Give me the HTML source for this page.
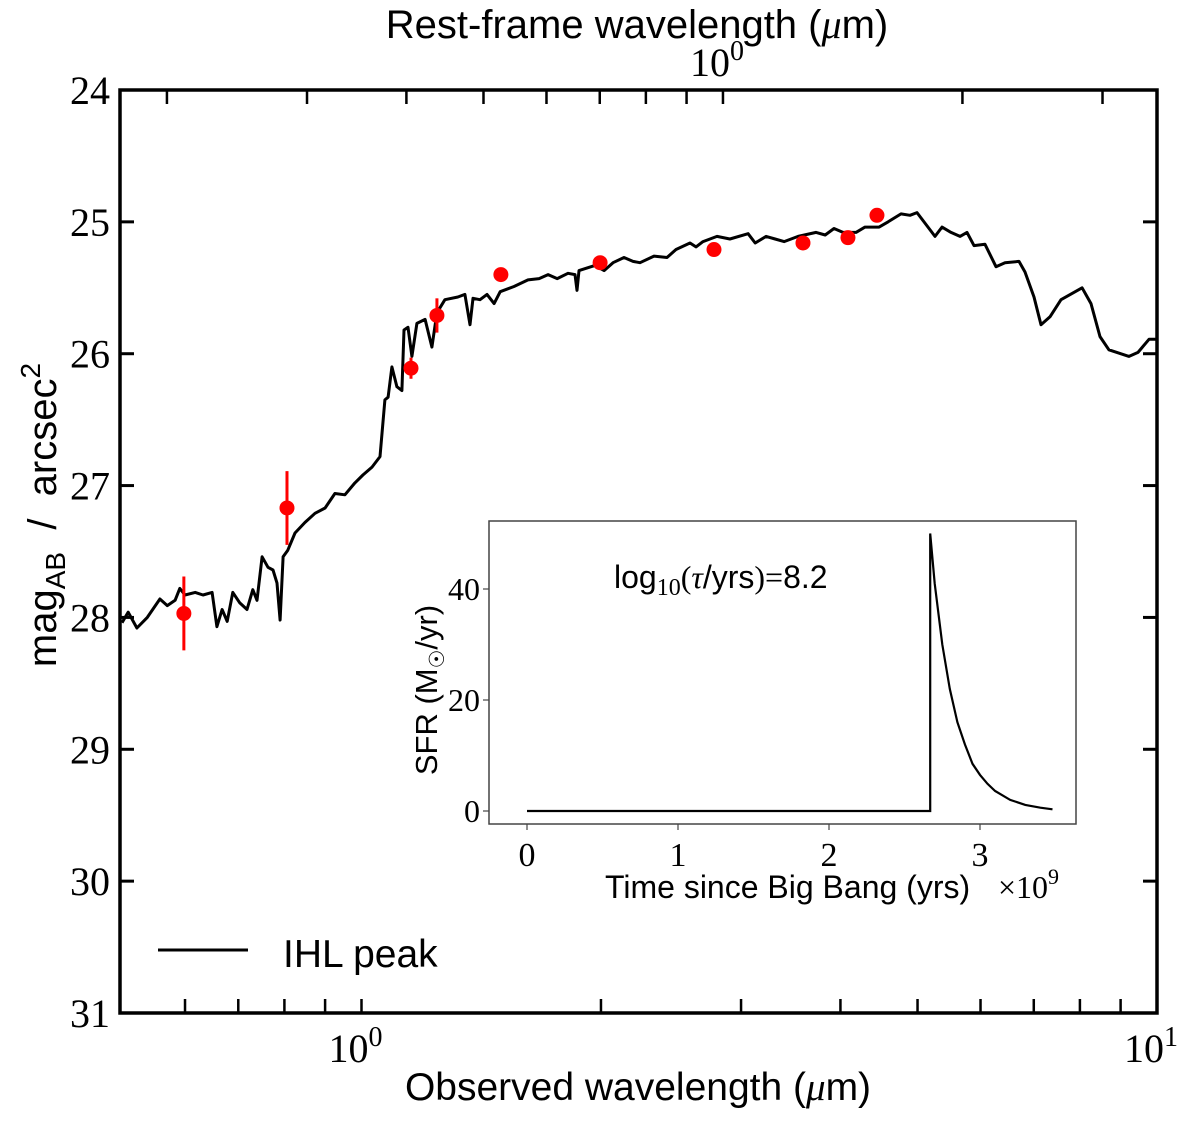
<!DOCTYPE html>
<html><head><meta charset="utf-8"><style>
body{margin:0;background:#fff;}
svg text{fill:#000;}
.serif{font-family:"Liberation Serif",serif;}
.sans{font-family:"Liberation Sans",sans-serif;}
</style></head><body>
<svg id="chart" width="1200" height="1118" xmlns="http://www.w3.org/2000/svg"></svg>
<script>
// Main SED line: observed wavelength (micron) and magnitude
const sedWave=[0.50,0.509,0.522,0.538,0.558,0.570,0.583,0.591,0.600,0.618,0.632,0.649,0.658,0.668,0.678,0.689,0.703,0.718,0.730,0.739,0.750,0.763,0.774,0.783,0.790,0.797,0.808,0.825,0.849,0.874,0.900,0.926,0.953,0.981,1.004,1.031,1.055,1.070,1.080,1.092,1.108,1.124,1.131,1.144,1.157,1.174,1.202,1.226,1.244,1.273,1.322,1.349,1.369,1.381,1.409,1.438,1.468,1.494,1.555,1.619,1.672,1.716,1.762,1.818,1.855,1.866,1.877,1.966,2.018,2.071,2.138,2.194,2.239,2.332,2.421,2.485,2.588,2.633,2.687,2.798,2.905,3.062,3.125,3.226,3.311,3.398,3.539,3.728,3.827,3.926,4.030,4.184,4.295,4.473,4.591,4.767,4.892,4.992,5.154,5.260,5.367,5.508,5.654,5.770,5.888,6.079,6.275,6.441,6.707,6.825,7.005,7.148,7.337,7.574,8.050,8.260,8.478,8.701,9.221,9.465,9.773,10.0];
const sedMag=[28.04,27.96,28.08,28.00,27.86,27.91,27.87,27.78,27.83,27.81,27.83,27.81,28.07,27.94,28.03,27.81,27.89,27.94,27.79,27.87,27.54,27.62,27.64,27.74,28.02,27.54,27.49,27.36,27.28,27.21,27.17,27.06,27.07,26.98,26.92,26.86,26.78,26.35,26.33,26.10,26.25,26.28,25.82,25.80,26.02,25.77,25.74,25.95,25.69,25.59,25.57,25.55,25.78,25.58,25.59,25.55,25.62,25.53,25.49,25.44,25.43,25.40,25.43,25.39,25.40,25.52,25.37,25.33,25.37,25.31,25.27,25.30,25.31,25.26,25.27,25.21,25.16,25.19,25.15,25.11,25.13,25.09,25.16,25.11,25.13,25.15,25.11,25.08,25.10,25.05,25.08,25.08,25.04,25.04,25.00,24.94,24.95,24.93,25.04,25.11,25.04,25.08,25.11,25.08,25.18,25.17,25.34,25.31,25.30,25.38,25.57,25.78,25.72,25.59,25.50,25.62,25.87,25.97,26.02,25.99,25.89,25.89];
// Photometry
const photWave=[0.598,0.806,1.154,1.244,1.497,1.995,2.774,3.589,4.088,4.446];
const photMag=[27.97,27.17,26.11,25.71,25.40,25.31,25.21,25.16,25.12,24.95];
const photErr=[0.28,0.28,0.08,0.13,0,0,0,0,0,0];
// Axis ticks
const yTicks=[24,25,26,27,28,29,30,31];
const xMinorTicks=[0.6,0.7,0.8,0.9,2,3,4,5,6,7,8,9];
const restMinorTicks=[0.2,0.3,0.4,0.5,0.6,0.7,0.8,0.9,2,3];
const redshift=1.847;
// Inset SFH
const sfhTime=[0,2.67,2.67,2.70,2.75,2.80,2.85,2.90,2.95,3.00,3.05,3.10,3.20,3.30,3.40,3.48];
const sfhSFR=[0,0,50,41,30,22,16,12,8.5,6.5,4.9,3.6,2.0,1.1,0.6,0.3];
const insetXTicks=[0,1,2,3];
const insetYTicks=[0,20,40];

const NS="http://www.w3.org/2000/svg";
const svg=document.getElementById('chart');
function mk(tag,attrs,parent){const e=document.createElementNS(NS,tag);for(const k in attrs)e.setAttribute(k,attrs[k]);(parent||svg).appendChild(e);return e;}
const L=120,R=1157,T=90,B=1013;
const x0=361.5,dec=795.5;
function X(l){return x0+Math.log10(l)*dec;}
function Y(m){return T+(m-24)*(B-T)/7;}

const defs=mk('defs',{});const cp=mk('clipPath',{id:'clipMain'},defs);mk('rect',{x:L,y:T,width:R-L,height:B-T},cp);

let d=sedWave.map((w,i)=>(i?'L':'M')+X(w).toFixed(1)+','+Y(sedMag[i]).toFixed(1)).join(' ');
const sed=mk('path',{d:d,fill:'none',stroke:'#000','stroke-width':3,'stroke-linejoin':'round','clip-path':'url(#clipMain)'});



photWave.forEach((w,i)=>{
  const g=mk('g',{});
  
  
  if(photErr[i]>0) mk('line',{x1:X(w),x2:X(w),y1:Y(photMag[i]-photErr[i]),y2:Y(photMag[i]+photErr[i]),stroke:'#f00','stroke-width':3},g);
  mk('circle',{cx:X(w),cy:Y(photMag[i]),r:7.5,fill:'#f00'},g);
});

const fr=mk('rect',{x:L,y:T,width:R-L,height:B-T,fill:'none',stroke:'#000','stroke-width':3.5});



yTicks.forEach(v=>{
  const y=Y(v);
  mk('line',{x1:L,x2:L+14,y1:y,y2:y,stroke:'#000','stroke-width':3});
  mk('line',{x1:R-14,x2:R,y1:y,y2:y,stroke:'#000','stroke-width':3});
  const t=mk('text',{x:L-10,y:y+14,'text-anchor':'end','font-size':40,class:'serif'});
  t.textContent=v;
  
  
});
[1,10].concat(xMinorTicks).forEach(v=>{
  const x=X(v);
  mk('line',{x1:x,x2:x,y1:B,y2:B-14,stroke:'#000','stroke-width':2.5});
});
[[1,'0'],[10,'1']].forEach(p=>{
  const t=mk('text',{x:X(p[0])-6,y:1062,'text-anchor':'middle','font-size':40,class:'serif'});
  t.innerHTML='10<tspan dy="-16" font-size="28">'+p[1]+'</tspan>';
  
  
});
[1].concat(restMinorTicks).forEach(v=>{
  const x=X(v*(1+redshift));
  mk('line',{x1:x,x2:x,y1:T,y2:T+14,stroke:'#000','stroke-width':2.5});
});
{const t=mk('text',{x:X(1+redshift)-6,y:76,'text-anchor':'middle','font-size':40,class:'serif'});
t.innerHTML='10<tspan dy="-16" font-size="28">0</tspan>';

}

{const t=mk('text',{x:638,y:1100,'text-anchor':'middle','font-size':39,class:'sans'});
t.innerHTML='Observed wavelength (<tspan font-style="italic" class="serif">μ</tspan>m)';

}
{const t=mk('text',{x:637,y:38,'text-anchor':'middle','font-size':40,class:'sans'});
t.innerHTML='Rest-frame wavelength (<tspan font-style="italic" class="serif">μ</tspan>m)';

}
{const t=mk('text',{x:0,y:0,'text-anchor':'middle','font-size':40,class:'sans',transform:'translate(56,515) rotate(-90)'});
t.innerHTML='mag<tspan dy="9" font-size="28">AB</tspan><tspan dy="-9" xml:space="preserve">  /  arcsec</tspan><tspan dy="-16" font-size="28">2</tspan>';

}

{const g=mk('g',{});


mk('line',{x1:158,x2:248,y1:950,y2:950,stroke:'#000','stroke-width':3},g);
const t=mk('text',{x:283,y:967,'font-size':39,class:'sans'},g);t.textContent='IHL peak';}

const IL=489,IR=1076,IT=521,IB=824;
const ix0=527,iux=151,iy0=811,iuy=5.55;
function IX(v){return ix0+v*iux;}
function IY(v){return iy0-v*iuy;}
const ins=mk('g',{});


mk('rect',{x:IL,y:IT,width:IR-IL,height:IB-IT,fill:'#fff',stroke:'#444','stroke-width':1.5},ins);
let d2=sfhTime.map((t,i)=>(i?'L':'M')+IX(t).toFixed(1)+','+IY(sfhSFR[i]).toFixed(1)).join(' ');
const sl=mk('path',{d:d2,fill:'none',stroke:'#000','stroke-width':2.2},ins);


insetXTicks.forEach(v=>{
  mk('line',{x1:IX(v),x2:IX(v),y1:IB,y2:IB+6,stroke:'#444','stroke-width':1.2},ins);
  const t=mk('text',{x:IX(v),y:IB+42,'text-anchor':'middle','font-size':34,class:'serif'},ins);
  t.textContent=v;
  
  
});
insetYTicks.forEach(v=>{
  mk('line',{x1:IL-6,x2:IL,y1:IY(v),y2:IY(v),stroke:'#444','stroke-width':1.2},ins);
  const t=mk('text',{x:IL-9,y:IY(v)+11,'text-anchor':'end','font-size':32,class:'serif'},ins);
  t.textContent=v;
  
  
});
{const t=mk('text',{x:605,y:898,'font-size':32,class:'sans'},ins);
t.textContent='Time since Big Bang (yrs)';


const t2=mk('text',{x:998,y:898,'font-size':32,class:'serif'},ins);
t2.innerHTML='×10<tspan dy="-14" font-size="22">9</tspan>';

}
{const t=mk('text',{x:0,y:0,'text-anchor':'middle','font-size':31,class:'sans',transform:'translate(437,690) rotate(-90)'},ins);
t.innerHTML='SFR (M<tspan dy="7" font-size="21">☉</tspan><tspan dy="-7">/yr)</tspan>';

}
{const t=mk('text',{x:614,y:588,'font-size':32,class:'sans'},ins);
t.innerHTML='log<tspan dy="7" font-size="24" class="serif">10</tspan><tspan dy="-7" class="serif">(</tspan><tspan font-style="italic" class="serif">τ</tspan>/yrs<tspan class="serif">)=</tspan>8.2';

}
</script>
</body></html>
